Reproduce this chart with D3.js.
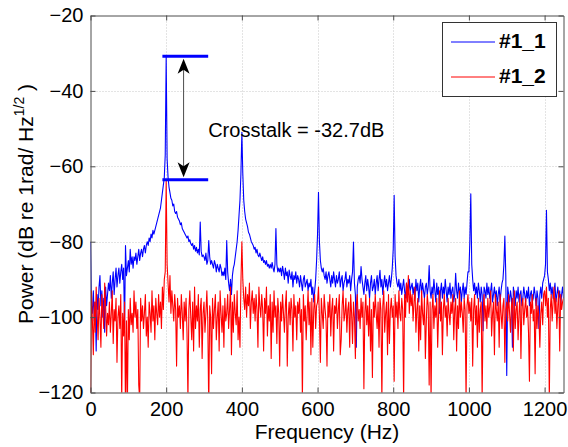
<!DOCTYPE html>
<html><head><meta charset="utf-8">
<script src="https://cdn.jsdelivr.net/npm/d3@7"></script>
<style>body{margin:0;background:#fff}svg text{font-family:"Liberation Sans",Arial,Helvetica,sans-serif}</style>
</head><body><svg id="c" width="568" height="447"></svg>
<script>
// frequency grid step (Hz) for both spectra, starting at 0 Hz
const freqStep = 2.5;
// channel #1_1 power (dB)
const power11 = [
-80,-97,-99,-93,-101,-96,-109,-94,-98,-92,-89,-97,-93,-100,-95,-104,-92,-97,-94,-91,
-93,-89,-95,-91,-88,-94,-90,-87,-92,-89,-87,-91,-88,-86,-90,-87,-103,-81,-89,-87,
-85,-88,-82,-86,-84,-87,-84,-85,-83,-86,-84,-82,-85,-83,-82,-84,-82,-81,-83,-81,
-80,-81,-79,-80,-78,-79,-77,-78,-77,-76,-75,-74,-73,-72,-71,-69,-67,-65,-63,-57,
-30.8,-58,-63,-65.5,-67,-68.5,-69,-70.5,-70,-72,-72.5,-72,-73.5,-74,-74.5,-75.5,-75,-76.5,-77,-77.5,
-78,-78.5,-79,-78.5,-80,-79.5,-80.5,-81,-80.5,-82,-81,-82.5,-81.5,-83,-82,-83.5,-74.8,-82.5,-84,-83.5,
-84,-85,-83,-86,-85,-79.7,-84,-86,-85,-86,-87,-85,-86,-88,-86,-87,-88,-86,-87,-89,
-88,-89,-87,-90,-79.7,-88,-91,-93,-90,-94,-89,-87,-86,-84,-82,-80,-77,-73,-69,-62,
-51,-62,-69,-72,-74,-75,-76,-77.5,-78,-79,-80,-80.5,-81,-82,-81.5,-83,-82,-83.5,-84,-83,
-84,-85,-84,-85.5,-85,-86,-85,-86.5,-86,-87,-86,-87,-85.5,-87,-88,-86,-76.5,-86,-88,-87,
-88,-87,-89,-86.5,-88,-90,-87,-89,-88,-91,-87.5,-89,-90,-88,-92,-89,-90,-88,-91,-89,
-90,-92,-89,-91,-93,-90,-89,-92,-91,-90,-93,-91,-92,-90,-94,-92,-96,-93,-90,-85,
-78,-66.9,-80,-85,-87,-88,-87,-89,-90,-88,-91,-89,-88,-90,-92,-89,-91,-88,-90,-92,
-89,-91,-90,-88,-92,-90,-89,-93,-91,-90,-88,-92,-90,-91,-89,-93,-90,-88,-80.1,-91,
-94,-108,-92,-90,-89,-91,-86.6,-90,-92,-94,-91,-89,-93,-90,-92,-95,-91,-89,-93,-92,
-90,-94,-91,-89,-93,-90,-87.6,-92,-90,-94,-91,-89,-92,-90,-93,-91,-89,-92,-90,-87,
-82,-67.7,-84,-89,-91,-92,-90,-93,-91,-94,-92,-90,-93,-95,-91,-92,-94,-90,-93,-92,
-91,-94,-92,-95,-90,-93,-91,-96,-92,-90,-94,-91,-93,-95,-92,-91,-94,-92,-86.3,-93,
-95,-92,-94,-90,-93,-96,-91,-94,-92,-99,-93,-91,-95,-92,-94,-90,-93,-96,-92,-94,
-91,-95,-93,-92,-96,-94,-88.4,-93,-95,-91,-94,-92,-96,-93,-91,-95,-92,-94,-91,-88,
-88,-80,-67.3,-86,-90,-93,-91,-94,-92,-95,-91,-93,-96,-92,-94,-103.6,-92,-93,-95,-91,
-94,-92,-95,-93,-91,-96,-94,-92,-95,-93,-97,-94,-92,-96,-93,-91,-90,-86,-78.5,-89,
-115.5,-92,-94,-96,-93,-95,-108,-92,-94,-97,-93,-95,-92,-96,-94,-93,-97,-95,-92,-94,
-96,-93,-95,-92,-97,-94,-93,-96,-95,-92,-94,-97,-93,-95,-103,-94,-92,-95,-91,-90,
-89,-86,-71.7,-88,-90,-93,-91,-94,-92,-95,-93,-91,-96,-94,-92,-95,-93,-97,-94,-92,
-95];
// channel #1_2 power (dB)
const power12 = [
-125,-93,-101,-110,-96,-104,-92,-99,-106,-95,-100,-108,-94,-98,-103,-91,-97,-105,-99,-102,
-96,-104,-99,-93,-107,-98,-101,-95,-112,-100,-97,-103,-94,-122,-99,-105,-96,-125,-101,-124,
-98,-106,-95,-102,-99,-104,-93,-100,-96,-103,-98,-118,-122,-95,-101,-97,-103,-99,-94,-105,
-100,-108,-96,-99,-104,-93,-101,-97,-106,-95,-99,-102,-94,-100,-96,-103,-92,-98,-90,-88,
-63.7,-86,-91,-96,-89,-99,-93,-97,-101,-94,-98,-113,-95,-100,-97,-103,-94,-99,-106,-96,
-101,-95,-104,-122,-98,-93,-100,-106,-96,-109,-92,-103,-97,-101,-94,-108,-98,-95,-111,-99,
-96,-104,-99,-93,-101,-125,-97,-100,-115,-95,-103,-98,-94,-106,-100,-96,-109,-93,-99,-104,
-97,-108,-95,-101,-99,-94,-103,-98,-92,-110,-96,-104,-94,-99,-102,-93,-106,-100,-108,-91,
-80,-90,-95,-98,-92,-100,-94,-97,-91,-103,-96,-93,-99,-95,-101,-94,-98,-108,-92,-97,
-100,-94,-98,-109,-95,-99,-92,-105,-97,-101,-94,-111,-96,-104,-93,-100,-97,-107,-95,-99,
-113,-96,-101,-94,-99,-104,-97,-93,-113,-100,-96,-102,-95,-98,-109,-94,-100,-97,-106,-96,
-99,-95,-104,-98,-122,-94,-101,-97,-106,-99,-93,-102,-96,-110,-95,-108,-98,-94,-103,-97,
-96,-92,-100,-112,-95,-99,-103,-94,-98,-101,-113,-96,-100,-94,-105,-98,-95,-109,-97,-99,
-95,-103,-98,-94,-110,-106,-97,-93,-101,-99,-95,-104,-98,-96,-108,-94,-99,-107,-96,-100,
-111,-97,-94,-101,-98,-103,-95,-100,-96,-119,-99,-94,-102,-97,-105,-95,-109,-98,-116,-96,
-100,-94,-99,-103,-96,-108,-95,-98,-122,-97,-93,-104,-99,-96,-110,-94,-107,-98,-95,-100,
-97,-117,-94,-100,-96,-103,-93,-99,-101,-95,-98,-122,-94,-100,-91,-96,-89,-99,-93,-97,
-94,-101,-96,-92,-104,-98,-95,-109,-97,-106,-93,-99,-102,-95,-111,-101,-94,-97,-118,-96,
-122,-98,-94,-103,-97,-100,-95,-108,-99,-93,-101,-96,-110,-98,-94,-100,-97,-105,-95,-99,
-102,-96,-99,-94,-106,-98,-95,-109,-97,-103,-93,-100,-96,-99,-104,-95,-98,-122,-97,-94,
-99,-96,-101,-95,-113,-98,-94,-102,-97,-108,-95,-104,-98,-96,-122,-99,-94,-101,-97,-103,
-95,-100,-97,-93,-105,-99,-96,-110,-94,-98,-101,-96,-108,-94,-99,-103,-97,-95,-112,-98,
-96,-101,-94,-99,-104,-97,-95,-109,-93,-103,-98,-96,-106,-99,-94,-111,-97,-95,-102,-98,
-95,-100,-97,-104,-117,-96,-99,-94,-101,-98,-115,-95,-103,-97,-100,-108,-99,-96,-102,-94,
-93,-97,-92,-100,-95,-122,-98,-94,-101,-96,-92,-99,-95,-103,-97,-93,-109,-94,-98,-96,
-95];
const seriesNames = ["#1_1", "#1_2"];
const seriesColors = ["#0000ff", "#ff0000"];
const xDomain = [0, 1250];
const yDomain = [-120, -20];
const xTickValues = [0, 200, 400, 600, 800, 1000, 1200];
const yTickValues = [-120, -100, -80, -60, -40, -20];
// crosstalk annotation: marker levels (dB), marker span (Hz), arrow position (Hz)
const markerLevels = [-30.8, -63.6];
const markerSpan = [190, 311];
const arrowFreq = 246;
const annotationText = "Crosstalk = -32.7dB";
const annotationPos = [311, -52.2];
const xTitle = "Frequency (Hz)";
const yTitleParts = ["Power (dB re 1rad/ Hz", "1/2", " )"];

const svg = d3.select("#c");
const L = 90.5, R = 563.5, T = 15.5, B = 392.5;
const x = d3.scaleLinear(xDomain, [L, R]);
const y = d3.scaleLinear(yDomain, [B, T]);
const font = '"Liberation Sans",Arial,Helvetica,sans-serif';

svg.append("rect").attr("width", 568).attr("height", 447).attr("fill", "#fff");
svg.append("defs").append("clipPath").attr("id", "clip")
  .append("rect").attr("x", L).attr("y", T).attr("width", R - L).attr("height", B - T);

// grid
const grid = svg.append("g").attr("stroke", "#c8c8c8").attr("stroke-width", 1).attr("stroke-dasharray", "1,2");
xTickValues.filter(v => v > xDomain[0] && v < xDomain[1]).forEach(v => {
  grid.append("line").attr("x1", Math.round(x(v)) + 0.5).attr("x2", Math.round(x(v)) + 0.5).attr("y1", T).attr("y2", B);
});
yTickValues.filter(v => v > yDomain[0] && v < yDomain[1]).forEach(v => {
  grid.append("line").attr("y1", Math.round(y(v)) + 0.5).attr("y2", Math.round(y(v)) + 0.5).attr("x1", L).attr("x2", R);
});

// series
const plot = svg.append("g").attr("clip-path", "url(#clip)");
const line = d3.line().x((d, i) => x(i * freqStep)).y(d => y(d));
[power11, power12].forEach((s, k) => {
  plot.append("path").datum(s).attr("fill", "none").attr("stroke", seriesColors[k])
    .attr("stroke-width", 1.1).attr("stroke-linejoin", "round").attr("d", line);
});

// axes (ticks inside, on all four sides)
const tickLen = 5;
const fmt = d3.format("d");
const axB = svg.append("g").attr("transform", `translate(0,${B})`)
  .call(d3.axisBottom(x).tickValues(xTickValues).tickFormat(fmt).tickSizeInner(-tickLen).tickSizeOuter(0).tickPadding(8));
const axT = svg.append("g").attr("transform", `translate(0,${T})`)
  .call(d3.axisTop(x).tickValues(xTickValues).tickSizeInner(-tickLen).tickSizeOuter(0).tickFormat(""));
const axL = svg.append("g").attr("transform", `translate(${L},0)`)
  .call(d3.axisLeft(y).tickValues(yTickValues).tickFormat(fmt).tickSizeInner(-tickLen).tickSizeOuter(0).tickPadding(7));
const axR = svg.append("g").attr("transform", `translate(${R},0)`)
  .call(d3.axisRight(y).tickValues(yTickValues).tickSizeInner(-tickLen).tickSizeOuter(0).tickFormat(""));
[axB, axT, axL, axR].forEach(a => {
  a.select(".domain").attr("stroke", "#4d4d4d");
  a.selectAll(".tick line").attr("stroke", "#4d4d4d");
  a.selectAll("text").attr("font-family", font).attr("font-size", 20).attr("fill", "#000");
});
axB.selectAll("text").attr("dy", "0.75em");

// titles
svg.append("text").attr("x", (L + R) / 2).attr("y", 439).attr("text-anchor", "middle")
  .attr("font-family", font).attr("font-size", 21).text(xTitle);
const yt = svg.append("text").attr("transform", `translate(33,${(T + B) / 2}) rotate(-90)`)
  .attr("text-anchor", "middle").attr("font-family", font).attr("font-size", 21);
yt.append("tspan").text(yTitleParts[0]);
yt.append("tspan").attr("font-size", 14).attr("dy", -9).text(yTitleParts[1]);
yt.append("tspan").attr("dy", 9).text(yTitleParts[2]);

// annotation
const ann = svg.append("g");
markerLevels.forEach(v => {
  ann.append("line").attr("x1", x(markerSpan[0])).attr("x2", x(markerSpan[1]))
    .attr("y1", y(v)).attr("y2", y(v)).attr("stroke", "#0000ff").attr("stroke-width", 3);
});
const ax = x(arrowFreq), yTop = y(markerLevels[0]) + 2.5, yBot = y(markerLevels[1]) - 2.5;
ann.append("line").attr("x1", ax).attr("x2", ax).attr("y1", yTop + 6).attr("y2", yBot - 6)
  .attr("stroke", "#4d4d4d").attr("stroke-width", 1);
ann.append("path").attr("fill", "#000")
  .attr("d", `M${ax},${yTop} L${ax - 6},${yTop + 15} L${ax},${yTop + 11} L${ax + 6},${yTop + 15} Z`);
ann.append("path").attr("fill", "#000")
  .attr("d", `M${ax},${yBot} L${ax - 6},${yBot - 15} L${ax},${yBot - 11} L${ax + 6},${yBot - 15} Z`);
ann.append("text").attr("x", x(annotationPos[0])).attr("y", y(annotationPos[1]))
  .attr("font-family", font).attr("font-size", 20).text(annotationText);

// legend
const lg = svg.append("g");
lg.append("rect").attr("x", 442.5).attr("y", 22.5).attr("width", 114).attr("height", 74)
  .attr("fill", "#fff").attr("stroke", "#333").attr("stroke-width", 1);
seriesNames.forEach((n, k) => {
  const ly = 42 + k * 35;
  lg.append("line").attr("x1", 451).attr("x2", 495).attr("y1", ly).attr("y2", ly)
    .attr("stroke", seriesColors[k]).attr("stroke-width", 1);
  lg.append("text").attr("x", 499).attr("y", ly + 6).attr("font-family", font)
    .attr("font-size", 21).attr("font-weight", "bold").text(n);
});
</script></body></html>
